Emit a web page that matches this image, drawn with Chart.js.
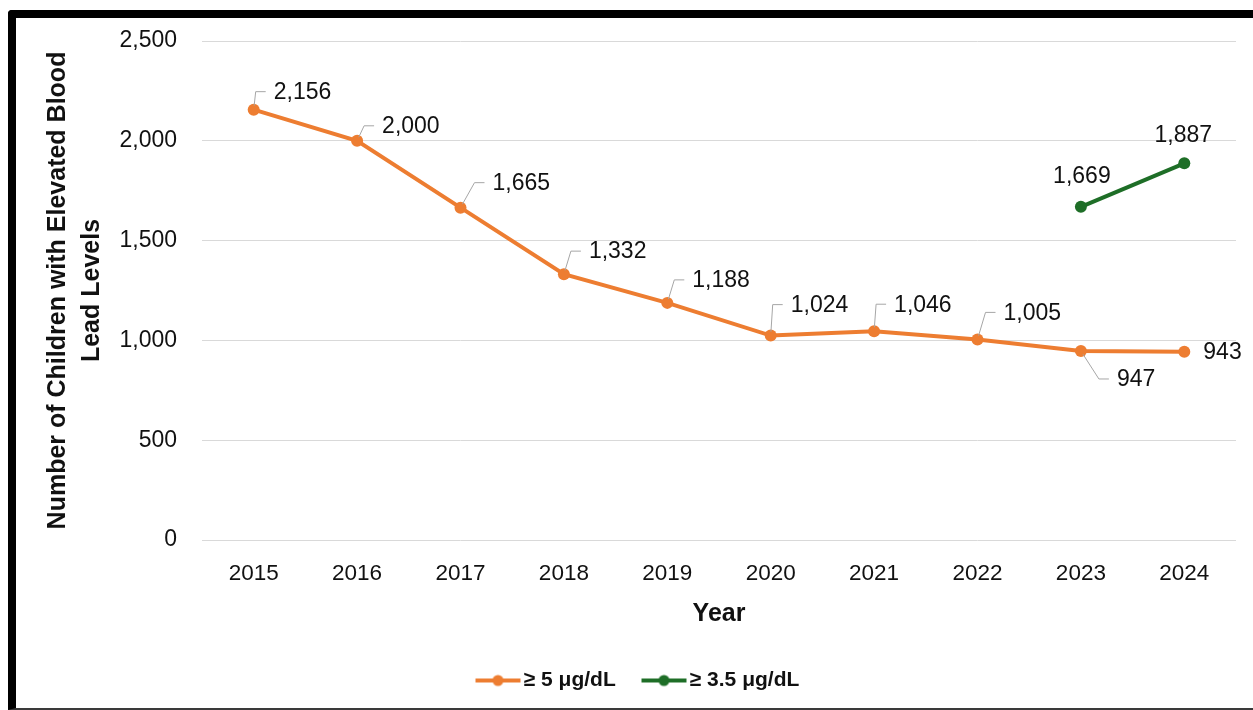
<!DOCTYPE html>
<html>
<head>
<meta charset="utf-8">
<script src="https://cdn.jsdelivr.net/npm/chart.js@4.4.1/dist/chart.umd.min.js"></script>
<style>
  html, body { margin: 0; padding: 0; background: #fff; }
  #frame {
    position: absolute; left: 8px; top: 10px; width: 1260px; height: 700px;
    box-sizing: border-box;
    border-top: 8px solid #000; border-left: 8px solid #000; border-bottom: 2px solid #3a3a3a;
    border-top-left-radius: 4px;
  }
  #wrap { position: absolute; left: 0; top: 0; width: 1253px; height: 710px; }
</style>
</head>
<body>
<div id="frame"></div>
<div id="wrap"><canvas id="chart"></canvas></div>
<script>
const years = ['2015', '2016', '2017', '2018', '2019', '2020', '2021', '2022', '2023', '2024'];
const over5 = [2156, 2000, 1665, 1332, 1188, 1024, 1046, 1005, 947, 943];
const over35 = [null, null, null, null, null, null, null, null, 1669, 1887];
const seriesNames = ['\u2265 5 \u03bcg/dL', '\u2265 3.5 \u03bcg/dL'];
const yMin = 0, yMax = 2500, yStep = 500;

const ORANGE = '#ED7D31';
const GREEN = '#1E6E27';
const TEXT = '#111';
const SANS = '"Liberation Sans", Arial, sans-serif';

// where each data label sits relative to its point: [dx, dy, leader line?, align]
const labelOffsets = [
    [[20, -17, true, 'left'], [25, -14, true, 'left'], [32, -24, true, 'left'], [25, -22, true, 'left'],
     [25, -22, true, 'left'], [20, -30, true, 'left'], [20, -26, true, 'left'], [26, -26, true, 'left'],
     [36, 29, true, 'left'], [19, 1, false, 'left']],
    [null, null, null, null, null, null, null, null, [1, -30, false, 'center'], [-1, -28, false, 'center']]
];

// legend swatch: line with a dot, drawn off-centre so it sits right after the item start
const legendMarker = (color) => {
    const c = document.createElement('canvas');
    c.width = 90; c.height = 14;
    const g = c.getContext('2d');
    g.strokeStyle = color; g.lineWidth = 4;
    g.beginPath(); g.moveTo(34, 7); g.lineTo(79, 7); g.stroke();
    g.fillStyle = color;
    g.beginPath(); g.arc(56.5, 7, 5.5, 0, Math.PI * 2); g.fill();
    return c;
};
const markers = [legendMarker(ORANGE), legendMarker(GREEN)];

const pointLabels = {
    id: 'pointLabels',
    afterDatasetsDraw(chart) {
        const ctx = chart.ctx;
        ctx.save();
        ctx.font = '23px ' + SANS;
        ctx.textBaseline = 'middle';
        chart.data.datasets.forEach((ds, di) => {
            const meta = chart.getDatasetMeta(di);
            meta.data.forEach((pt, i) => {
                const v = ds.data[i];
                const off = labelOffsets[di][i];
                if (v == null || !off) return;
                const [dx, dy, leader, align] = off;
                const tx = pt.x + dx, ty = pt.y + dy;
                if (leader) {
                    const cx = tx - 18, ex = tx - 8, ly = ty - 1;
                    const ang = Math.atan2(ly - pt.y, cx - pt.x);
                    ctx.strokeStyle = '#a6a6a6';
                    ctx.lineWidth = 1;
                    ctx.beginPath();
                    ctx.moveTo(pt.x + Math.cos(ang) * 4, pt.y + Math.sin(ang) * 4);
                    ctx.lineTo(cx, ly);
                    ctx.lineTo(ex, ly);
                    ctx.stroke();
                }
                ctx.fillStyle = TEXT;
                ctx.textAlign = align;
                ctx.fillText(v.toLocaleString('en-US'), tx, ty);
            });
        });
        ctx.restore();
    }
};

new Chart(document.getElementById('chart'), {
    type: 'line',
    data: {
        labels: years,
        datasets: [
            { label: seriesNames[0], data: over5, borderColor: ORANGE, backgroundColor: ORANGE,
              borderWidth: 4, pointRadius: 6, pointHoverRadius: 6, pointBorderWidth: 0 },
            { label: seriesNames[1], data: over35, borderColor: GREEN, backgroundColor: GREEN,
              borderWidth: 4, pointRadius: 6, pointHoverRadius: 6, pointBorderWidth: 0 }
        ]
    },
    options: {
        responsive: true,
        maintainAspectRatio: false,
        animation: false,
        layout: { padding: { left: 23, right: 17, top: 41, bottom: 9 } },
        scales: {
            x: {
                offset: true,
                grid: { display: false, drawTicks: false },
                border: { display: false },
                ticks: { color: TEXT, font: { family: SANS, size: 22.5 }, padding: 20 },
                title: { display: true, text: 'Year', color: TEXT,
                         font: { family: SANS, size: 25, weight: 'bold', lineHeight: '30px' },
                         padding: { top: 0, bottom: 31 } },
                afterFit: (scale) => { scale.height = 120; }
            },
            y: {
                min: yMin, max: yMax,
                grid: { color: '#d9d9d9', lineWidth: 1, drawTicks: false },
                border: { display: false },
                ticks: { stepSize: yStep, color: TEXT, font: { family: SANS, size: 23 }, padding: 25,
                         callback: (v) => v.toLocaleString('en-US') },
                title: { display: true, text: ['Number of Children with Elevated Blood', 'Lead Levels'], color: TEXT,
                         font: { family: SANS, size: 25, weight: 'bold', lineHeight: '34px' },
                         padding: { top: 18, bottom: 0 } },
                afterFit: (scale) => { scale.width = 179; }
            }
        },
        plugins: {
            tooltip: { enabled: false },
            legend: {
                position: 'bottom',
                labels: {
                    usePointStyle: true,
                    pointStyleWidth: 53.5,
                    boxHeight: 14,
                    padding: 10,
                    color: TEXT,
                    font: { family: SANS, size: 21, weight: 'bold' },
                    generateLabels: (chart) => {
                        const items = Chart.defaults.plugins.legend.labels.generateLabels(chart);
                        items.forEach(it => { it.pointStyle = markers[it.datasetIndex]; });
                        return items;
                    }
                }
            }
        }
    },
    plugins: [pointLabels]
});
</script>
</body>
</html>
